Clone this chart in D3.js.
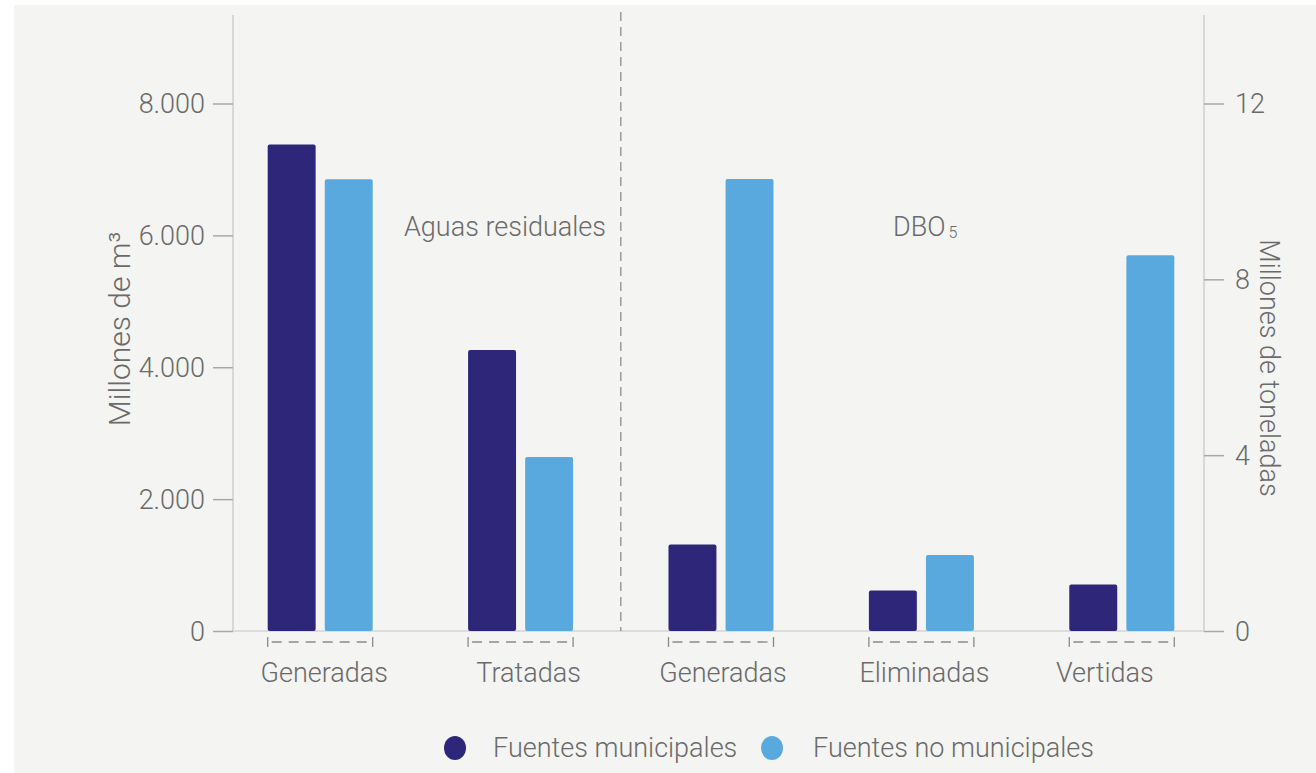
<!DOCTYPE html>
<html>
<head>
<meta charset="utf-8">
<script src="https://cdn.jsdelivr.net/npm/d3@7"></script>
<style>
  html, body { margin: 0; padding: 0; background: #ffffff; }
  svg { display: block; font-family: Roboto, "Noto Sans", sans-serif; font-weight: 300; }
</style>
</head>
<body>
<svg id="chart" width="1316" height="773"></svg>
<script>
// Categories along the x axis (two groups: wastewater volumes and BOD5 loads)
const categories = ["Generadas", "Tratadas", "Generadas", "Eliminadas", "Vertidas"];
// Which y axis each category is measured on
const categoryAxis = ["left", "left", "right", "right", "right"];
// Series values: left axis in millions of m³, right axis in millions of tonnes
const municipales = [7380, 4260, 1.97, 0.92, 1.06];
const noMunicipales = [6850, 2640, 10.28, 1.73, 8.55];
const seriesNames = ["Fuentes municipales", "Fuentes no municipales"];
const seriesColors = ["#2e2779", "#5aa9de"];
// Axis ticks
const leftTicks = [0, 2000, 4000, 6000, 8000];
const rightTicks = [0, 4, 8, 12];

// Layout: horizontal nudge of each category label from its group centre
const labelNudge = [4, 8, 2, 3, -17];

const svg = d3.select("#chart");
const W = 1316, H = 773;

// Panel background
svg.append("rect").attr("x", 14).attr("y", 5).attr("width", W - 14).attr("height", H - 5)
  .attr("fill", "#f4f4f2");

const plot = { left: 233, right: 1204, top: 15, bottom: 631 };
const textColor = "#6a6a6a";
const fs = "27px";

const x = d3.scaleBand()
  .domain(d3.range(categories.length))
  .range([220, 1222])
  .paddingInner(0.476)
  .paddingOuter(0.238);

const xs = d3.scaleBand()
  .domain([0, 1])
  .range([0, x.bandwidth()])
  .paddingInner(0.16);

const yLeft = d3.scaleLinear().domain([0, 8000]).range([plot.bottom, 103.5]);
const yRight = d3.scaleLinear().domain([0, 12]).range([plot.bottom, 103.5]);

const esLocale = d3.formatLocale({ decimal: ",", thousands: ".", grouping: [3], currency: ["", " €"] });
const fmtLeft = esLocale.format(",");

// Axis lines
svg.append("line").attr("x1", plot.left).attr("x2", plot.left)
  .attr("y1", plot.top).attr("y2", plot.bottom).attr("stroke", "#cfcfcf").attr("stroke-width", 1.5);
svg.append("line").attr("x1", plot.right).attr("x2", plot.right)
  .attr("y1", plot.top).attr("y2", plot.bottom).attr("stroke", "#cfcfcf").attr("stroke-width", 1.5);
svg.append("line").attr("x1", plot.left).attr("x2", plot.right)
  .attr("y1", plot.bottom).attr("y2", plot.bottom).attr("stroke", "#d4d4d4").attr("stroke-width", 1.5);

// Dashed separator between the two groups
const sepX = (x(1) + x.bandwidth() + x(2)) / 2;
svg.append("line").attr("x1", sepX).attr("x2", sepX)
  .attr("y1", 12).attr("y2", plot.bottom)
  .attr("stroke", "#9a9a9a").attr("stroke-width", 1.5).attr("stroke-dasharray", "9,6");

function styleAxis(g) {
  g.attr("font-family", null).attr("font-size", null);
  g.select(".domain").remove();
  g.selectAll(".tick line").attr("stroke", "#a8a8a8").attr("stroke-width", 1.5);
  g.selectAll(".tick text").attr("fill", textColor).style("font-size", fs).attr("dy", "0.34em");
}

// Left axis
svg.append("g").attr("transform", `translate(${plot.left},0)`)
  .call(d3.axisLeft(yLeft).tickValues(leftTicks).tickFormat(fmtLeft).tickSize(20).tickPadding(8))
  .call(styleAxis);

// Right axis
svg.append("g").attr("transform", `translate(${plot.right},0)`)
  .call(d3.axisRight(yRight).tickValues(rightTicks).tickSize(20).tickPadding(11))
  .call(styleAxis);

// Bars
const rows = categories.map((c, i) => ({
  i, cat: c, axis: categoryAxis[i], values: [municipales[i], noMunicipales[i]]
}));
const groupsSel = svg.append("g").selectAll("g").data(rows).join("g")
  .attr("transform", d => `translate(${x(d.i)},0)`);
groupsSel.selectAll("rect").data(d => d.values.map((v, k) => ({ v, k, axis: d.axis })))
  .join("rect")
  .attr("x", d => xs(d.k))
  .attr("width", xs.bandwidth())
  .attr("y", d => (d.axis === "left" ? yLeft : yRight)(d.v))
  .attr("height", d => plot.bottom - (d.axis === "left" ? yLeft : yRight)(d.v))
  .attr("rx", 2)
  .attr("fill", d => seriesColors[d.k]);

// Category brackets and labels
const bracketY = 642;
const br = svg.append("g").selectAll("g").data(rows).join("g")
  .attr("transform", d => `translate(${x(d.i)},0)`);
br.append("line").attr("x1", 0).attr("x2", x.bandwidth())
  .attr("y1", bracketY).attr("y2", bracketY)
  .attr("stroke", "#8a8a8a").attr("stroke-width", 1.3).attr("stroke-dasharray", "10,7")
  .attr("stroke-dashoffset", -4);
br.append("line").attr("x1", 0).attr("x2", 0).attr("y1", bracketY - 5).attr("y2", bracketY + 5)
  .attr("stroke", "#8a8a8a").attr("stroke-width", 1.3);
br.append("line").attr("x1", x.bandwidth()).attr("x2", x.bandwidth()).attr("y1", bracketY - 5).attr("y2", bracketY + 5)
  .attr("stroke", "#8a8a8a").attr("stroke-width", 1.3);
br.append("text").attr("x", d => x.bandwidth() / 2 + labelNudge[d.i]).attr("y", 682)
  .attr("text-anchor", "middle").attr("fill", textColor).style("font-size", fs)
  .text(d => d.cat);

// Group titles
svg.append("text").attr("x", 505).attr("y", 236).attr("text-anchor", "middle")
  .attr("fill", textColor).style("font-size", fs).text("Aguas residuales");
const dbo = svg.append("text").attr("x", 893).attr("y", 236)
  .attr("fill", textColor).style("font-size", fs);
dbo.append("tspan").text("DBO");
dbo.append("tspan").attr("dx", 3).attr("dy", 2).style("font-size", "16px").text("5");

// Axis titles
svg.append("text").attr("transform", "translate(130,329) rotate(-90)")
  .attr("text-anchor", "middle").attr("fill", textColor).style("font-size", "30px")
  .text("Millones de m³");
svg.append("text").attr("transform", "translate(1260,368) rotate(90)")
  .attr("text-anchor", "middle").attr("fill", textColor).style("font-size", fs)
  .text("Millones de toneladas");

// Legend
const legendItems = [
  { name: seriesNames[0], color: seriesColors[0], cx: 455, tx: 493 },
  { name: seriesNames[1], color: seriesColors[1], cx: 772, tx: 813 }
];
const lg = svg.append("g").selectAll("g").data(legendItems).join("g");
lg.append("ellipse").attr("cx", d => d.cx).attr("cy", 748).attr("rx", 11).attr("ry", 12)
  .attr("fill", d => d.color);
lg.append("text").attr("x", d => d.tx).attr("y", 757).attr("fill", textColor)
  .style("font-size", fs).text(d => d.name);
</script>
</body>
</html>
